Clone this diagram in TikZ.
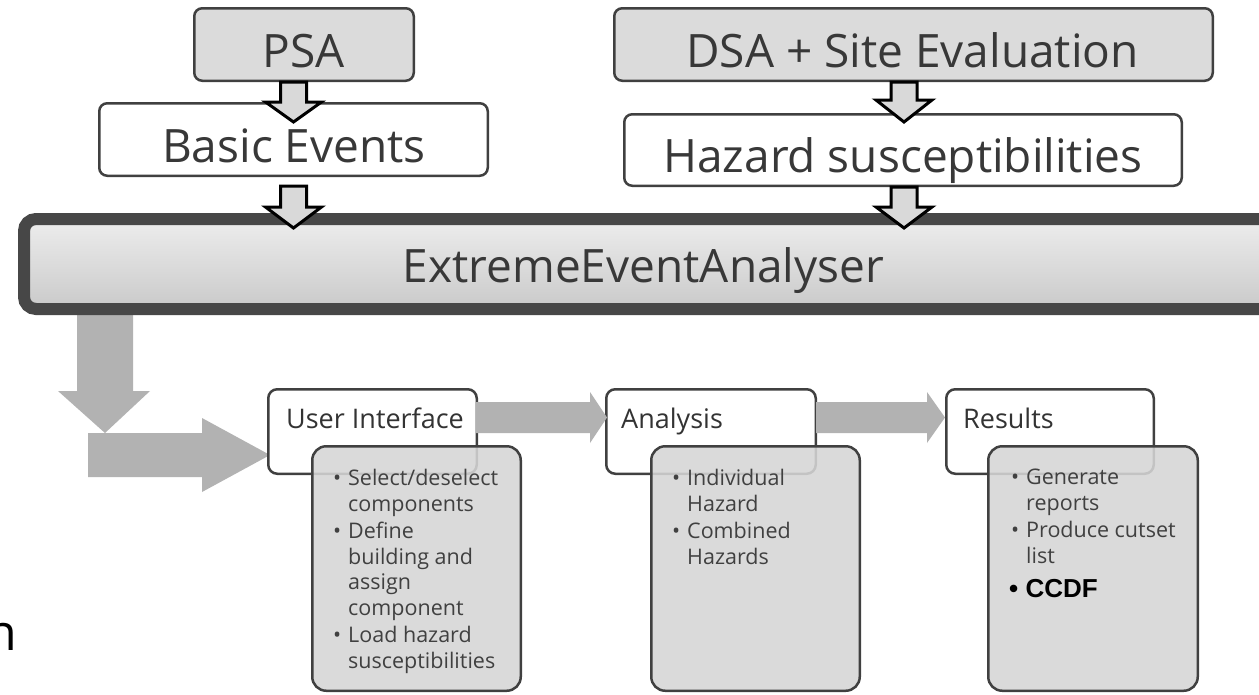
\documentclass[tikz,border=0pt]{standalone}
\usepackage{fontspec}
\setmainfont{Open Sans}
\newfontfamily\arialf{Liberation Sans}
\begin{document}
\begin{tikzpicture}[x=1pt,y=-1pt,
  boxline/.style={draw=black!75},
  topgray/.style={boxline, line width=2.5pt, rounded corners=8pt, fill=black!14, inner sep=0pt},
  topwhite/.style={boxline, line width=2.5pt, rounded corners=8pt, fill=white, inner sep=0pt},
  bigtext/.style={inner sep=0pt, text=black!78, font=\fontsize{46}{50}\selectfont},
  titlebox/.style={boxline, line width=2.5pt, rounded corners=9pt, fill=white, inner sep=0pt},
  detailbox/.style={boxline, line width=2.5pt, rounded corners=14pt, fill=black!16, fill opacity=0.88, inner sep=0pt},
  titletext/.style={inner sep=0pt, text=black!80, font=\fontsize{27}{30}\selectfont},
  itemtext/.style={inner sep=0pt, text=black!75, align=left, font=\fontsize{21.5}{25.5}\selectfont},
  outlinearrow/.style={draw=black, line width=3pt, fill=black!15, line join=miter},
  grayarrow/.style={fill=black!30, draw=none}
]
\useasboundingbox (0,0) rectangle (1259,694);
\fill[white] (0,0) rectangle (1259,694);

% top boxes
\node[topgray, minimum width=219.5pt, minimum height=72.5pt] (psa) at (304,44.5) {};
\node[topgray, minimum width=598.5pt, minimum height=72.5pt] (dsa) at (913.5,44.5) {};
\node[topwhite, minimum width=388.5pt, minimum height=72.5pt] (basic) at (293.5,139.5) {};
\node[topwhite, minimum width=557.5pt, minimum height=71.5pt] (haz) at (903,150) {};

\node[bigtext, anchor=base] (psat) at (304,67) {PSA};
\node[bigtext, anchor=base] (dsat) at (912.5,67) {DSA + Site Evaluation};
\node[bigtext, anchor=base] (basict) at (294,162) {Basic Events};
\node[bigtext, anchor=base] (hazt) at (903,172) {Hazard susceptibilities};

% L-shaped gray arrow (behind the big box)
\fill[grayarrow] (77,310) -- (77,391) -- (58,391) -- (105,433) -- (150,391) -- (133,391) -- (133,310) -- cycle;
\fill[grayarrow] (88,433) -- (202,433) -- (202,418) -- (270,455) -- (202,492) -- (202,477) -- (88,477) -- cycle;

% big analyser box
\node[draw=black!72, line width=12pt, rounded corners=12pt, top color=black!7, bottom color=black!21, inner sep=0pt,
      minimum width=1256pt, minimum height=90pt] (eea) at (652,264) {};
\node[bigtext, anchor=base] (eeat) at (643.5,282) {ExtremeEventAnalyser};

% outlined down arrows
\newcommand\dnarrow[4]{%
  \filldraw[outlinearrow] (#1-13,#2) -- (#1-13,#3) -- (#1-28,#3) -- (#1,#4) -- (#1+28,#3) -- (#1+13,#3) -- (#1+13,#2) -- cycle;}
\dnarrow{293.5}{82}{102}{122}
\dnarrow{293.5}{186}{207}{228}
\dnarrow{904}{82}{100}{122}
\dnarrow{904}{187}{207}{228}

% bottom title boxes
\node[titlebox, minimum width=208.5pt, minimum height=84.5pt] (ui) at (372.5,431.5) {};
\node[titlebox, minimum width=209.5pt, minimum height=84.5pt] (ana) at (711,431.5) {};
\node[titlebox, minimum width=207.5pt, minimum height=84.5pt] (res) at (1050,431.5) {};

\node[titletext, anchor=base west] (uit) at (286,428) {User Interface};
\node[titletext, anchor=base west] (anat) at (621,428) {Analysis};
\node[titletext, anchor=base west] (rest) at (963,428) {Results};

% gray arrows between title boxes
\fill[grayarrow] (476,402) -- (590,402) -- (590,392) -- (607,417.5) -- (590,443) -- (590,433) -- (476,433) -- cycle;
\fill[grayarrow] (816,402) -- (927,402) -- (927,392) -- (945,417.5) -- (927,443) -- (927,433) -- (816,433) -- cycle;

% detail boxes
\node[detailbox, minimum width=208.5pt, minimum height=244.5pt] (uid) at (416.5,568.5) {};
\node[detailbox, minimum width=208.5pt, minimum height=244.5pt] (anad) at (755.5,568.5) {};
\node[detailbox, minimum width=209.5pt, minimum height=244.5pt] (resd) at (1093,568.5) {};

\newcommand\bul{\makebox[15pt][l]{\textbullet}}
\newcommand\ind{\hspace*{15pt}}
\node[itemtext, anchor=north west] (uilist) at (333,469) {%
\bul Select/deselect\\ \ind components\\[2pt]
\bul Define\\ \ind building and\\ \ind assign\\ \ind component\\[2pt]
\bul Load hazard\\ \ind susceptibilities};
\node[itemtext, anchor=north west] (analist) at (672,469) {%
\bul Individual\\ \ind Hazard\\[2pt]
\bul Combined\\ \ind Hazards};
\node[itemtext, anchor=north west] (reslist) at (1011,469) {%
\bul Generate\\ \ind reports\\[2pt]
\bul Produce cutset\\ \ind list};
\node[inner sep=0pt, anchor=base west, font=\arialf\bfseries\fontsize{26}{30}\selectfont] (ccdf) at (1009,597) {\textbullet\ CCDF};

% cut-off letter at the left edge
\node[inner sep=0pt, anchor=base east, font=\fontsize{50}{55}\selectfont] (cutn) at (17,650) {n};
\end{tikzpicture}
\end{document}
